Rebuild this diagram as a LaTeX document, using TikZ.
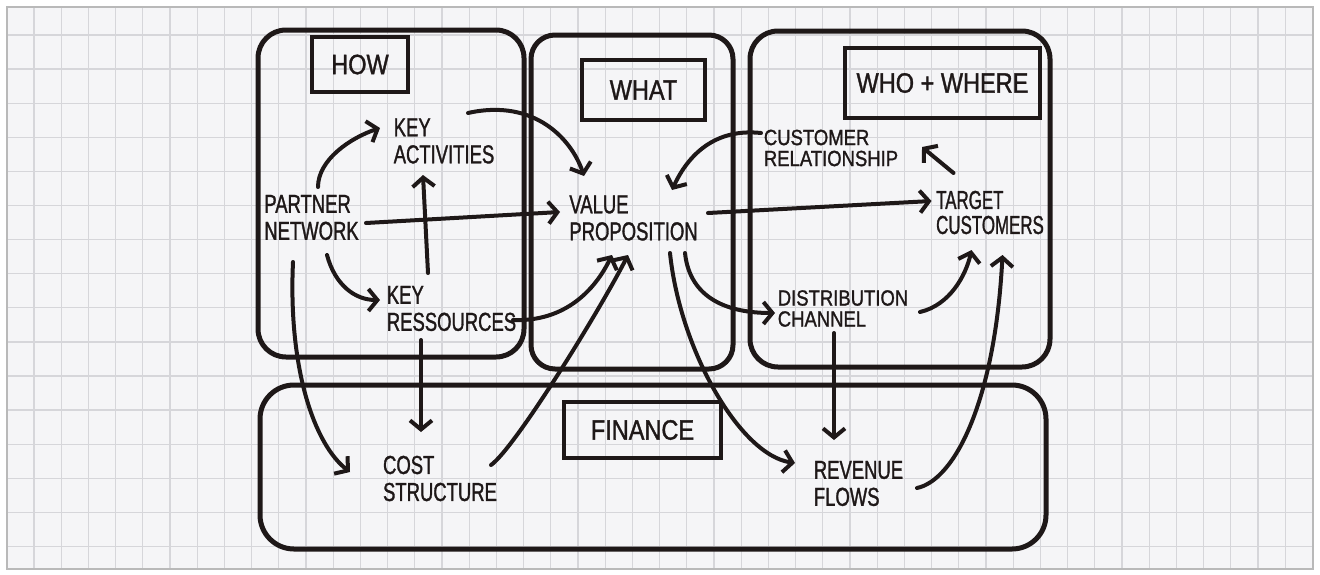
\documentclass[tikz,border=0pt]{standalone}
\usepackage{fontspec}
\newfontfamily\handA{Liberation Sans}[FakeStretch=0.71,FakeBold=1.2]
\newfontfamily\handB{Liberation Sans}[FakeStretch=0.84,FakeBold=1.2]
\newfontfamily\handC{Liberation Sans}[FakeStretch=0.65,FakeBold=1.2]
\usetikzlibrary{arrows.meta,calc}
\definecolor{ink}{HTML}{1E1818}
\definecolor{paper}{HTML}{F5F5F7}
\definecolor{gridc}{HTML}{D6D6DA}
\tikzset{
  box/.style={draw=ink, line width=5pt, rounded corners=28pt, inner sep=0pt},
  tag/.style={draw=ink, line width=4.5pt, inner sep=0pt, text=ink, font=\handB\fontsize{28}{30}\selectfont},
  lbl/.style={text=ink, align=left, inner sep=1pt, font=\handA\fontsize{26}{27}\selectfont},
  lblnarrow/.style={text=ink, align=left, inner sep=1pt, font=\handC\fontsize{26}{25}\selectfont},
  lblsm/.style={text=ink, align=left, inner sep=1pt, font=\handB\fontsize{22}{21}\selectfont},
  flow/.style={draw=ink, line width=4pt, line cap=round, line join=round, -{Straight Barb[length=9pt,width=22pt]}}
}
\begin{document}
\begin{tikzpicture}[x=1pt,y=-1pt]
\useasboundingbox (0,0) rectangle (1320,574);
% paper and grid
\fill[white] (0,0) rectangle (1320,574);
\fill[paper] (7,7) rectangle (1313,569);
\foreach \i in {0,...,46} { \draw[gridc, line width=1.3pt] ({34+27.2*\i},7) -- ({34+27.2*\i},569); }
\foreach \j in {0,...,15} { \draw[gridc, line width=1.3pt] (7,{35+34.1*\j}) -- (1313,{35+34.1*\j}); }
\draw[gray!55, line width=1.5pt] (7,7) rectangle (1313,569);

% containers
\node[box, minimum width=266pt, minimum height=327pt] (howbox) at (391,193.5) {};
\node[box, minimum width=202pt, minimum height=334pt, rounded corners=24pt] (whatbox) at (632,202) {};
\node[box, minimum width=300pt, minimum height=336pt] (whobox) at (900,199) {};
\node[box, minimum width=786pt, minimum height=164pt, rounded corners=34pt] (finbox) at (653,467) {};

% section tags
\node[tag, minimum width=96pt, minimum height=55pt] (how) at (360,64.5) {HOW};
\node[tag, minimum width=123pt, minimum height=60pt] (what) at (643.5,90) {WHAT};
\node[tag, minimum width=195pt, minimum height=70pt] (who) at (942.5,83) {WHO + WHERE};
\node[tag, minimum width=157pt, minimum height=56pt] (fin) at (642.5,430) {FINANCE};

% blocks
\node[lbl] (pn) at (311.5,217.5) {PARTNER\\NETWORK};
\node[lbl] (ka) at (444,141) {KEY\\ACTIVITIES};
\node[lbl] (kr) at (451.5,308.5) {KEY\\RESSOURCES};
\node[lbl] (vp) at (633.5,218) {VALUE\\PROPOSITION};
\node[lblsm] (cr) at (831,148) {CUSTOMER\\RELATIONSHIP};
\node[lblnarrow] (tc) at (990,212.5) {TARGET\\CUSTOMERS};
\node[lblsm] (dc) at (843,308.5) {DISTRIBUTION\\CHANNEL};
\node[lbl] (cs) at (440,478.5) {COST\\STRUCTURE};
\node[lbl] (rf) at (858.5,483.5) {REVENUE\\FLOWS};

% connectors
\draw[flow] ($(pn)+(6.5,-30.5)$) .. controls (318,160) and (350,138) .. ($(ka)+(-64,-13)$);
\draw[flow] ($(pn)+(54.5,5.5)$) -- ($(vp)+(-73.5,-6)$);
\draw[flow] ($(pn)+(15.5,37.5)$) .. controls (335,285) and (355,300) .. ($(kr)+(-71.5,-8.5)$);
\draw[flow] ($(pn)+(-18.5,44.5)$) .. controls (288,370) and (315,445) .. ($(cs)+(-90,-6.5)$);
\draw[flow] ($(kr)+(-23.5,-35.5)$) -- ($(ka)+(-21,34)$);
\draw[flow] ($(ka)+(24,-28)$) .. controls (535,98) and (572,140) .. ($(vp)+(-49.5,-42)$);
\draw[flow] ($(kr)+(61.5,11.5)$) .. controls (565,322) and (595,290) .. ($(vp)+(-21.5,37)$);
\draw[flow] ($(kr)+(-30.5,31.5)$) -- ($(cs)+(-19,-46.5)$);
\draw[flow] ($(cs)+(51,-13.5)$) .. controls (515,448) and (600,310) .. ($(vp)+(-5.5,37)$);
\draw[flow] ($(cr)+(-70,-15)$) .. controls (715,128) and (688,155) .. ($(vp)+(38.5,-28)$);
\draw[flow] ($(tc)+(-36.5,-39.5)$) -- ($(cr)+(91,-1)$);
\draw[flow] ($(vp)+(74.5,-5)$) -- ($(tc)+(-58.5,-11.5)$);
\draw[flow] ($(vp)+(51.5,35)$) .. controls (690,300) and (730,313) .. ($(dc)+(-68,4.5)$);
\draw[flow] ($(vp)+(36.5,35)$) .. controls (680,350) and (740,455) .. ($(rf)+(-63.5,-20.5)$);
\draw[flow] ($(dc)+(77,3.5)$) .. controls (950,305) and (966,275) .. ($(tc)+(-18.5,37.5)$);
\draw[flow] ($(dc)+(-9,24.5)$) -- ($(rf)+(-24.5,-43.5)$);
\draw[flow] ($(rf)+(58.5,4.5)$) .. controls (955,480) and (995,400) .. ($(tc)+(12.5,42.5)$);
\end{tikzpicture}
\end{document}
